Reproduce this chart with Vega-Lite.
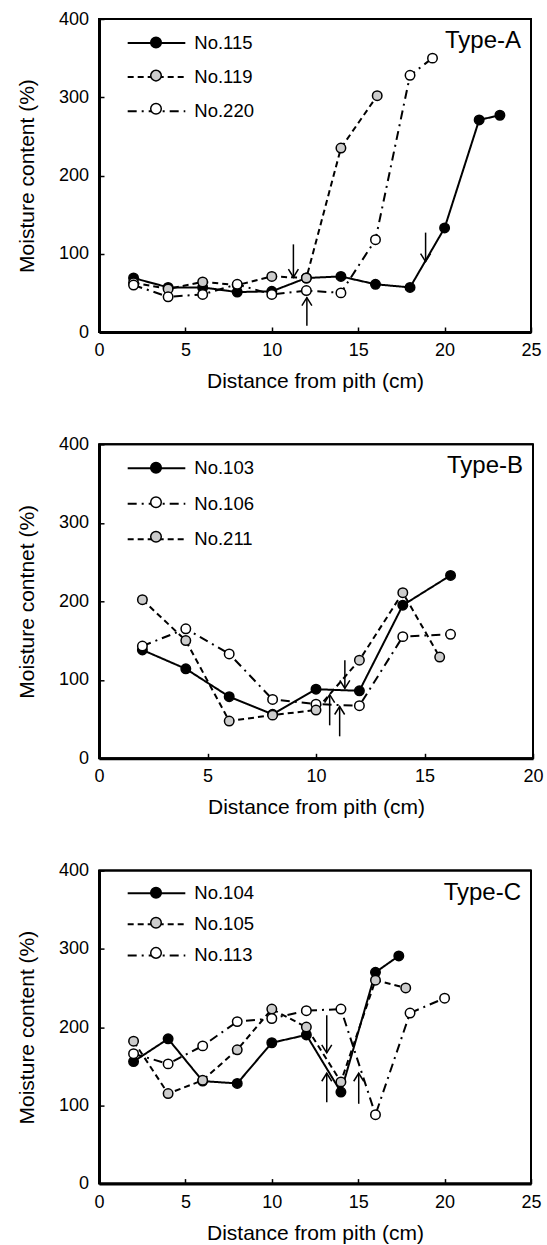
{
  "$schema": "https://vega.github.io/schema/vega-lite/v6.json",
  "padding": {"left": 15, "top": 9, "right": 5, "bottom": 2},
  "spacing": 41.3,
  "datasets": {
    "a": [
      {"series": "No.115", "x": 2, "y": 69}, {"series": "No.115", "x": 4, "y": 57}, {"series": "No.115", "x": 6, "y": 57}, {"series": "No.115", "x": 8, "y": 51}, {"series": "No.115", "x": 10, "y": 52}, {"series": "No.115", "x": 12, "y": 69}, {"series": "No.115", "x": 14, "y": 71}, {"series": "No.115", "x": 16, "y": 61}, {"series": "No.115", "x": 18, "y": 57}, {"series": "No.115", "x": 20, "y": 133}, {"series": "No.115", "x": 22, "y": 271}, {"series": "No.115", "x": 23.2, "y": 277},
      {"series": "No.119", "x": 2, "y": 63}, {"series": "No.119", "x": 4, "y": 55}, {"series": "No.119", "x": 6, "y": 64}, {"series": "No.119", "x": 8, "y": 60}, {"series": "No.119", "x": 10, "y": 71}, {"series": "No.119", "x": 12, "y": 69}, {"series": "No.119", "x": 14, "y": 235}, {"series": "No.119", "x": 16.1, "y": 302},
      {"series": "No.220", "x": 2, "y": 60}, {"series": "No.220", "x": 4, "y": 45}, {"series": "No.220", "x": 6, "y": 48}, {"series": "No.220", "x": 8, "y": 61}, {"series": "No.220", "x": 10, "y": 48}, {"series": "No.220", "x": 12, "y": 53}, {"series": "No.220", "x": 14, "y": 50}, {"series": "No.220", "x": 16, "y": 118}, {"series": "No.220", "x": 18, "y": 328}, {"series": "No.220", "x": 19.3, "y": 350}
    ],
    "aArrows": [
      {"x": 11.25, "y1": 112, "y2": 70, "dir": "down"},
      {"x": 18.9, "y1": 127, "y2": 90, "dir": "down"},
      {"x": 12.03, "y1": 8, "y2": 44, "dir": "up"}
    ],
    "b": [
      {"series": "No.103", "x": 2, "y": 138}, {"series": "No.103", "x": 4, "y": 114}, {"series": "No.103", "x": 6, "y": 78.5}, {"series": "No.103", "x": 8, "y": 56}, {"series": "No.103", "x": 10, "y": 88}, {"series": "No.103", "x": 12, "y": 86}, {"series": "No.103", "x": 14, "y": 195}, {"series": "No.103", "x": 16.2, "y": 233},
      {"series": "No.106", "x": 2, "y": 143}, {"series": "No.106", "x": 4, "y": 165}, {"series": "No.106", "x": 6, "y": 133}, {"series": "No.106", "x": 8, "y": 75}, {"series": "No.106", "x": 10, "y": 69}, {"series": "No.106", "x": 12, "y": 67}, {"series": "No.106", "x": 14, "y": 155}, {"series": "No.106", "x": 16.2, "y": 158},
      {"series": "No.211", "x": 2, "y": 202}, {"series": "No.211", "x": 4, "y": 150}, {"series": "No.211", "x": 6, "y": 47.5}, {"series": "No.211", "x": 8, "y": 55}, {"series": "No.211", "x": 10, "y": 61.5}, {"series": "No.211", "x": 12, "y": 125}, {"series": "No.211", "x": 14, "y": 211}, {"series": "No.211", "x": 15.7, "y": 129}
    ],
    "bArrows": [
      {"x": 11.33, "y1": 125, "y2": 89, "dir": "down"},
      {"x": 10.63, "y1": 42, "y2": 81, "dir": "up"},
      {"x": 11.09, "y1": 28, "y2": 66, "dir": "up"}
    ],
    "c": [
      {"series": "No.104", "x": 2, "y": 156}, {"series": "No.104", "x": 4, "y": 185}, {"series": "No.104", "x": 6, "y": 131}, {"series": "No.104", "x": 8, "y": 128}, {"series": "No.104", "x": 10, "y": 180}, {"series": "No.104", "x": 12, "y": 190}, {"series": "No.104", "x": 14, "y": 117}, {"series": "No.104", "x": 16, "y": 270}, {"series": "No.104", "x": 17.35, "y": 291},
      {"series": "No.105", "x": 2, "y": 182}, {"series": "No.105", "x": 4, "y": 115}, {"series": "No.105", "x": 6, "y": 132}, {"series": "No.105", "x": 8, "y": 171}, {"series": "No.105", "x": 10, "y": 223}, {"series": "No.105", "x": 12, "y": 200}, {"series": "No.105", "x": 14, "y": 130}, {"series": "No.105", "x": 16, "y": 260}, {"series": "No.105", "x": 17.75, "y": 250},
      {"series": "No.113", "x": 2, "y": 166}, {"series": "No.113", "x": 4, "y": 153}, {"series": "No.113", "x": 6, "y": 176}, {"series": "No.113", "x": 8, "y": 207}, {"series": "No.113", "x": 10, "y": 211}, {"series": "No.113", "x": 12, "y": 221}, {"series": "No.113", "x": 14, "y": 223}, {"series": "No.113", "x": 16, "y": 88}, {"series": "No.113", "x": 18, "y": 218}, {"series": "No.113", "x": 20, "y": 237}
    ],
    "cArrows": [
      {"x": 13.18, "y1": 215, "y2": 167, "dir": "down"},
      {"x": 13.18, "y1": 104, "y2": 141, "dir": "up"},
      {"x": 15.03, "y1": 102, "y2": 141, "dir": "up"}
    ],
    "frameA": [{"x0": 0, "x1": 25, "y0": 0, "y1": 400}],
    "frameB": [{"x0": 0, "x1": 20, "y0": 0, "y1": 400}]
  },
  "vconcat": [
    {
      "width": 432, "height": 313,
      "title": {"text": "Type-A", "anchor": "end", "frame": "group", "offset": -62, "dx": -10, "baseline": "alphabetic"},
      "layer": [
        {
          "data": {"name": "frameA"},
          "mark": {"type": "rule", "color": "black", "strokeWidth": 2},
          "encoding": {
            "x": {"field": "x0", "type": "quantitative", "title": "Distance from pith (cm)", "scale": {"domain": [0, 25], "nice": false}, "axis": {"values": [0, 5, 10, 15, 20, 25]}},
            "x2": {"field": "x1"},
            "y": {"field": "y1", "type": "quantitative", "title": "Moisture content (%)", "scale": {"domain": [0, 400], "nice": false}, "axis": {"values": [0, 100, 200, 300, 400]}}
          }
        },
        {
          "data": {"name": "frameA"},
          "mark": {"type": "rule", "color": "black", "strokeWidth": 2},
          "encoding": {
            "x": {"field": "x1", "type": "quantitative", "title": "Distance from pith (cm)"},
            "y": {"field": "y0", "type": "quantitative", "title": "Moisture content (%)"},
            "y2": {"field": "y1"}
          }
        },
        {
          "data": {"name": "a"},
          "mark": {"type": "line", "strokeWidth": 2, "color": "black"},
          "encoding": {
            "x": {"field": "x", "type": "quantitative", "title": "Distance from pith (cm)"},
            "y": {"field": "y", "type": "quantitative", "title": "Moisture content (%)"},
            "strokeDash": {"field": "series", "type": "nominal", "scale": {"range": [[1, 0], [6, 4], [9, 5, 2, 5]]},
              "legend": {"title": null, "legendX": 46.5, "legendY": 13, "rowPadding": 13.1, "symbolType": "M-3,0H3", "symbolStrokeWidth": 2, "symbolStrokeColor": "black", "symbolFillColor": "transparent", "zindex": 1}}
          }
        },
        {
          "data": {"name": "a"},
          "mark": {"type": "point", "filled": true, "shape": "circle", "size": 90, "stroke": "black", "strokeWidth": 1.5, "opacity": 1},
          "encoding": {
            "x": {"field": "x", "type": "quantitative", "title": "Distance from pith (cm)"},
            "y": {"field": "y", "type": "quantitative", "title": "Moisture content (%)"},
            "fill": {"field": "series", "type": "nominal", "scale": {"domain": ["No.115", "No.119", "No.220"], "range": ["black", "#cccccc", "white"]},
              "legend": {"title": null, "legendX": 46.5, "legendY": 13, "rowPadding": 13.1, "symbolType": "M-0.55,0A0.55,0.55 0 1,0 0.55,0A0.55,0.55 0 1,0 -0.55,0Z", "symbolStrokeWidth": 1.5, "symbolStrokeColor": "black", "symbolOpacity": 1, "labelExpr": "''", "zindex": 2}}
          }
        },
        {
          "data": {"name": "aArrows"},
          "mark": {"type": "rule", "strokeWidth": 1.5, "color": "black"},
          "encoding": {
            "x": {"field": "x", "type": "quantitative", "title": "Distance from pith (cm)"},
            "y": {"field": "y1", "type": "quantitative", "title": "Moisture content (%)"},
            "y2": {"field": "y2"}
          }
        },
        {
          "data": {"name": "aArrows"},
          "mark": {"type": "point", "filled": false, "size": 100, "stroke": "black", "strokeWidth": 1.5, "opacity": 1},
          "encoding": {
            "x": {"field": "x", "type": "quantitative", "title": "Distance from pith (cm)"},
            "y": {"field": "y2", "type": "quantitative", "title": "Moisture content (%)"},
            "shape": {"field": "dir", "type": "nominal", "scale": {"domain": ["down", "up"], "range": ["M-1,-1.6L0,0L1,-1.6", "M-1,1.6L0,0L1,1.6"]}, "legend": null}
          }
        }
      ]
    },
    {
      "width": 434, "height": 314,
      "title": {"text": "Type-B", "anchor": "end", "frame": "group", "offset": -62, "dx": -10, "baseline": "alphabetic"},
      "layer": [
        {
          "data": {"name": "frameB"},
          "mark": {"type": "rule", "color": "black", "strokeWidth": 2},
          "encoding": {
            "x": {"field": "x0", "type": "quantitative", "title": "Distance from pith (cm)", "scale": {"domain": [0, 20], "nice": false}, "axis": {"values": [0, 5, 10, 15, 20]}},
            "x2": {"field": "x1"},
            "y": {"field": "y1", "type": "quantitative", "title": "Moisture contnet (%)", "scale": {"domain": [0, 400], "nice": false}, "axis": {"values": [0, 100, 200, 300, 400]}}
          }
        },
        {
          "data": {"name": "frameB"},
          "mark": {"type": "rule", "color": "black", "strokeWidth": 2},
          "encoding": {
            "x": {"field": "x1", "type": "quantitative", "title": "Distance from pith (cm)"},
            "y": {"field": "y0", "type": "quantitative", "title": "Moisture contnet (%)"},
            "y2": {"field": "y1"}
          }
        },
        {
          "data": {"name": "b"},
          "mark": {"type": "line", "strokeWidth": 2, "color": "black"},
          "encoding": {
            "x": {"field": "x", "type": "quantitative", "title": "Distance from pith (cm)"},
            "y": {"field": "y", "type": "quantitative", "title": "Moisture contnet (%)"},
            "strokeDash": {"field": "series", "type": "nominal", "scale": {"range": [[1, 0], [9, 5, 2, 5], [6, 4]]},
              "legend": {"title": null, "legendX": 46.5, "legendY": 13, "rowPadding": 14.5, "symbolType": "M-3,0H3", "symbolStrokeWidth": 2, "symbolStrokeColor": "black", "symbolFillColor": "transparent", "zindex": 1}}
          }
        },
        {
          "data": {"name": "b"},
          "mark": {"type": "point", "filled": true, "shape": "circle", "size": 90, "stroke": "black", "strokeWidth": 1.5, "opacity": 1},
          "encoding": {
            "x": {"field": "x", "type": "quantitative", "title": "Distance from pith (cm)"},
            "y": {"field": "y", "type": "quantitative", "title": "Moisture contnet (%)"},
            "fill": {"field": "series", "type": "nominal", "scale": {"domain": ["No.103", "No.106", "No.211"], "range": ["black", "white", "#cccccc"]},
              "legend": {"title": null, "legendX": 46.5, "legendY": 13, "rowPadding": 14.5, "symbolType": "M-0.55,0A0.55,0.55 0 1,0 0.55,0A0.55,0.55 0 1,0 -0.55,0Z", "symbolStrokeWidth": 1.5, "symbolStrokeColor": "black", "symbolOpacity": 1, "labelExpr": "''", "zindex": 2}}
          }
        },
        {
          "data": {"name": "bArrows"},
          "mark": {"type": "rule", "strokeWidth": 1.5, "color": "black"},
          "encoding": {
            "x": {"field": "x", "type": "quantitative", "title": "Distance from pith (cm)"},
            "y": {"field": "y1", "type": "quantitative", "title": "Moisture contnet (%)"},
            "y2": {"field": "y2"}
          }
        },
        {
          "data": {"name": "bArrows"},
          "mark": {"type": "point", "filled": false, "size": 100, "stroke": "black", "strokeWidth": 1.5, "opacity": 1},
          "encoding": {
            "x": {"field": "x", "type": "quantitative", "title": "Distance from pith (cm)"},
            "y": {"field": "y2", "type": "quantitative", "title": "Moisture contnet (%)"},
            "shape": {"field": "dir", "type": "nominal", "scale": {"domain": ["down", "up"], "range": ["M-1,-1.6L0,0L1,-1.6", "M-1,1.6L0,0L1,1.6"]}, "legend": null}
          }
        }
      ]
    },
    {
      "width": 432, "height": 313,
      "title": {"text": "Type-C", "anchor": "end", "frame": "group", "offset": -62, "dx": -10, "baseline": "alphabetic"},
      "layer": [
        {
          "data": {"name": "frameA"},
          "mark": {"type": "rule", "color": "black", "strokeWidth": 2},
          "encoding": {
            "x": {"field": "x0", "type": "quantitative", "title": "Distance from pith (cm)", "scale": {"domain": [0, 25], "nice": false}, "axis": {"values": [0, 5, 10, 15, 20, 25]}},
            "x2": {"field": "x1"},
            "y": {"field": "y1", "type": "quantitative", "title": "Moisture content (%)", "scale": {"domain": [0, 400], "nice": false}, "axis": {"values": [0, 100, 200, 300, 400]}}
          }
        },
        {
          "data": {"name": "frameA"},
          "mark": {"type": "rule", "color": "black", "strokeWidth": 2},
          "encoding": {
            "x": {"field": "x1", "type": "quantitative", "title": "Distance from pith (cm)"},
            "y": {"field": "y0", "type": "quantitative", "title": "Moisture content (%)"},
            "y2": {"field": "y1"}
          }
        },
        {
          "data": {"name": "c"},
          "mark": {"type": "line", "strokeWidth": 2, "color": "black"},
          "encoding": {
            "x": {"field": "x", "type": "quantitative", "title": "Distance from pith (cm)"},
            "y": {"field": "y", "type": "quantitative", "title": "Moisture content (%)"},
            "strokeDash": {"field": "series", "type": "nominal", "scale": {"range": [[1, 0], [6, 4], [9, 5, 2, 5]]},
              "legend": {"title": null, "legendX": 46.5, "legendY": 11.6, "rowPadding": 10.1, "symbolType": "M-3,0H3", "symbolStrokeWidth": 2, "symbolStrokeColor": "black", "symbolFillColor": "transparent", "zindex": 1}}
          }
        },
        {
          "data": {"name": "c"},
          "mark": {"type": "point", "filled": true, "shape": "circle", "size": 90, "stroke": "black", "strokeWidth": 1.5, "opacity": 1},
          "encoding": {
            "x": {"field": "x", "type": "quantitative", "title": "Distance from pith (cm)"},
            "y": {"field": "y", "type": "quantitative", "title": "Moisture content (%)"},
            "fill": {"field": "series", "type": "nominal", "scale": {"domain": ["No.104", "No.105", "No.113"], "range": ["black", "#cccccc", "white"]},
              "legend": {"title": null, "legendX": 46.5, "legendY": 11.6, "rowPadding": 10.1, "symbolType": "M-0.55,0A0.55,0.55 0 1,0 0.55,0A0.55,0.55 0 1,0 -0.55,0Z", "symbolStrokeWidth": 1.5, "symbolStrokeColor": "black", "symbolOpacity": 1, "labelExpr": "''", "zindex": 2}}
          }
        },
        {
          "data": {"name": "cArrows"},
          "mark": {"type": "rule", "strokeWidth": 1.5, "color": "black"},
          "encoding": {
            "x": {"field": "x", "type": "quantitative", "title": "Distance from pith (cm)"},
            "y": {"field": "y1", "type": "quantitative", "title": "Moisture content (%)"},
            "y2": {"field": "y2"}
          }
        },
        {
          "data": {"name": "cArrows"},
          "mark": {"type": "point", "filled": false, "size": 100, "stroke": "black", "strokeWidth": 1.5, "opacity": 1},
          "encoding": {
            "x": {"field": "x", "type": "quantitative", "title": "Distance from pith (cm)"},
            "y": {"field": "y2", "type": "quantitative", "title": "Moisture content (%)"},
            "shape": {"field": "dir", "type": "nominal", "scale": {"domain": ["down", "up"], "range": ["M-1,-1.6L0,0L1,-1.6", "M-1,1.6L0,0L1,1.6"]}, "legend": null}
          }
        }
      ]
    }
  ],
  "resolve": {
    "scale": {"strokeDash": "independent", "fill": "independent", "shape": "independent", "x": "independent", "y": "independent"},
    "legend": {"strokeDash": "independent", "fill": "independent"}
  },
  "config": {
    "font": "Liberation Sans",
    "background": "white",
    "view": {"stroke": "black", "strokeWidth": 2},
    "axis": {"domainColor": "black", "domainWidth": 3, "tickColor": "black", "tickSize": -5, "tickWidth": 1.5, "labelColor": "black", "labelFontSize": 18, "titleFontSize": 21, "titleFontWeight": "normal", "titleColor": "black", "grid": false, "labelFlush": false, "labelOverlap": false},
    "axisX": {"labelPadding": 14.4, "titlePadding": 11},
    "axisY": {"labelPadding": 15.5, "titlePadding": 21},
    "legend": {"orient": "none", "padding": 0, "labelFontSize": 18.5, "labelColor": "black", "symbolSize": 369, "labelOffset": 26.8},
    "title": {"fontSize": 24, "fontWeight": "normal", "color": "black"}
  }
}
